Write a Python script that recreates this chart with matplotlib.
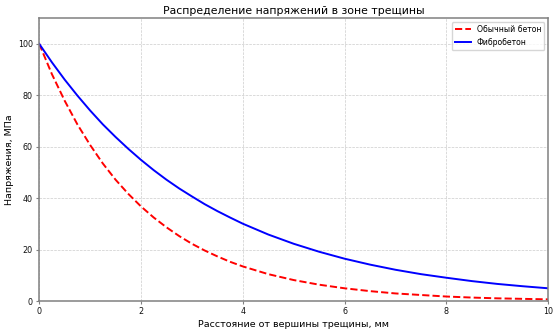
import matplotlib
matplotlib.use('Agg')
import matplotlib.pyplot as plt

plt.rcParams['font.family'] = ['DejaVu Sans']

# distance from crack tip, mm
x = [0, 0.25, 0.5, 0.75, 1, 1.25, 1.5, 1.75, 2, 2.25, 2.5, 2.75, 3, 3.25, 3.5, 3.75, 4,
     4.5, 5, 5.5, 6, 6.5, 7, 7.5, 8, 8.5, 9, 9.5, 10]
# stress, MPa
plain = [100, 88.2, 77.9, 68.7, 60.7, 53.5, 47.2, 41.7, 36.8, 32.5, 28.7, 25.3, 22.3, 19.7, 17.4, 15.3, 13.5,
         10.5, 8.2, 6.4, 5.0, 3.9, 3.0, 2.4, 1.8, 1.4, 1.1, 0.9, 0.7]
fiber = [100, 92.8, 86.1, 79.9, 74.1, 68.7, 63.8, 59.2, 54.9, 50.9, 47.2, 43.8, 40.7, 37.7, 35.0, 32.5, 30.1,
         25.9, 22.3, 19.2, 16.5, 14.2, 12.2, 10.5, 9.1, 7.8, 6.7, 5.8, 5.0]

fig, ax = plt.subplots(figsize=(5.6, 3.35), dpi=100)
fig.subplots_adjust(left=0.07, right=0.979, top=0.946, bottom=0.101)

ax.plot(x, plain, color='red', linestyle='--', linewidth=1.4, label='Обычный бетон')
ax.plot(x, fiber, color='blue', linewidth=1.4, label='Фибробетон')

ax.set_xlim(0, 10)
ax.set_ylim(0, 110)
ax.set_xticks([0, 2, 4, 6, 8, 10])
ax.set_yticks([0, 20, 40, 60, 80, 100])
ax.grid(True, linestyle='--', color='#cccccc', linewidth=0.5)
for s in ax.spines.values():
    s.set_color('#808080')
    s.set_linewidth(1.1)
ax.tick_params(labelsize=5.8, colors='#808080', labelcolor='#111111', length=2.5, pad=2)

ax.set_title('Распределение напряжений в зоне трещины', fontsize=7.8, pad=3)
ax.set_xlabel('Расстояние от вершины трещины, мм', fontsize=6.8, labelpad=2.5)
ax.set_ylabel('Напряжения, МПа', fontsize=6.8, labelpad=3)
ax.legend(fontsize=5.6, loc='upper right')

fig.savefig('out.png')
